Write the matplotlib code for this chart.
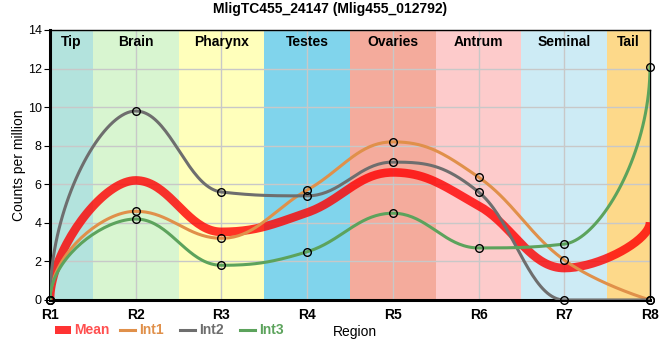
import numpy as np
import matplotlib
matplotlib.use("Agg")
import matplotlib.pyplot as plt

plt.rcParams["font.family"] = ["Liberation Sans", "DejaVu Sans"]

title = "MligTC455_24147 (Mlig455_012792)"
regions = ["R1", "R2", "R3", "R4", "R5", "R6", "R7", "R8"]
int1 = [0, 4.6, 3.2, 5.7, 8.2, 6.37, 2.07, 0]
int2 = [0, 9.8, 5.6, 5.4, 7.15, 5.6, 0, 0]
int3 = [0, 4.2, 1.8, 2.5, 4.5, 2.7, 2.9, 12.1]

band_names = ["Tip", "Brain", "Pharynx", "Testes", "Ovaries", "Antrum", "Seminal", "Tail"]
band_colors = ["#b3e3dd", "#d8f5d0", "#ffffbb", "#80d4ec",
               "#f4ab9c", "#fdcbcb", "#cdebf5", "#fdd98a"]


def end_ctrl(y_end, y_next, y_ctrl, ends):
    # steep end control, unless it would leave the range toward the neighbour control
    c = y_end + ends * (y_next - y_end)
    if min(y_end, y_ctrl) <= c <= max(y_end, y_ctrl):
        return c
    return y_end


def spline(xs, ys, n=40, smoothing=1.5, ends=0.5):
    # spline with control points clamped so there are no false extremes
    xs = np.asarray(xs, float)
    ys = np.asarray(ys, float)
    k = len(xs)
    left = [None] * k
    right = [None] * k
    d = smoothing + 1
    for i in range(1, k - 1):
        x, y = xs[i], ys[i]
        lx, ly = (smoothing * x + xs[i - 1]) / d, (smoothing * y + ys[i - 1]) / d
        rx, ry = (smoothing * x + xs[i + 1]) / d, (smoothing * y + ys[i + 1]) / d
        corr = (ry - ly) * (rx - x) / (rx - lx) + y - ry
        ly += corr
        ry += corr
        if ly > ys[i - 1] and ly > y:
            ly = max(ys[i - 1], y)
            ry = 2 * y - ly
        elif ly < ys[i - 1] and ly < y:
            ly = min(ys[i - 1], y)
            ry = 2 * y - ly
        if ry > ys[i + 1] and ry > y:
            ry = max(ys[i + 1], y)
            ly = 2 * y - ry
        elif ry < ys[i + 1] and ry < y:
            ry = min(ys[i + 1], y)
            ly = 2 * y - ry
        left[i] = (lx, ly)
        right[i] = (rx, ry)
    right[0] = (xs[0], end_ctrl(ys[0], ys[1], left[1][1], ends))
    left[-1] = (xs[-1], end_ctrl(ys[-1], ys[-2], right[-2][1], ends))
    u = np.linspace(0, 1, n)
    b = [(1 - u) ** 3, 3 * (1 - u) ** 2 * u, 3 * (1 - u) * u ** 2, u ** 3]
    px, py = [], []
    for i in range(k - 1):
        pts = [(xs[i], ys[i]), right[i], left[i + 1], (xs[i + 1], ys[i + 1])]
        px.append(sum(b[j] * pts[j][0] for j in range(4)))
        py.append(sum(b[j] * pts[j][1] for j in range(4)))
    return np.concatenate(px), np.concatenate(py)


x = np.arange(len(regions))
mean = (np.array(int1) + np.array(int2) + np.array(int3)) / 3

fig = plt.figure(figsize=(6.6, 3.6), dpi=100)
ax = fig.add_axes([50 / 660, 60 / 360, 600 / 660, 270 / 360])

for i, (name, col) in enumerate(zip(band_names, band_colors)):
    x0 = max(i - 0.5, 0)
    x1 = min(i + 0.5, len(regions) - 1)
    ax.axvspan(x0, x1, color=col, lw=0, zorder=0)
    ax.text((x0 + x1) / 2, 13.4, name, ha="center", va="center",
            fontsize=10, fontweight="bold", zorder=1)

ax.grid(True, color="#c8c8c8", lw=1, zorder=1)
ax.set_axisbelow(True)

series = [("Int1", int1, "#e0904a"), ("Int2", int2, "#6e6e6e"), ("Int3", int3, "#5ca35c")]
mx, my = spline(x, mean, ends=0.4)
ax.plot(mx, my, color="#ff0000", alpha=0.8, lw=6.2, solid_capstyle="butt", zorder=3)
for name, ys, col in series:
    cx, cy = spline(x, ys)
    ax.plot(cx, cy, color=col, lw=2.2, zorder=3)
    ax.plot(x, ys, "o", ms=5.5, mfc="none", mec="black", mew=1, zorder=4, clip_on=False)

ax.set_xlim(0, 7)
ax.set_ylim(0, 14)
ax.set_xticks(x)
ax.set_xticklabels(regions, fontsize=10, fontweight="bold")
ax.set_yticks(range(0, 15, 2))
ax.tick_params(axis="y", labelsize=9, length=4, pad=2)
ax.tick_params(axis="x", length=0, pad=6)
ax.set_ylabel("Counts per million", fontsize=10)
ax.yaxis.set_label_coords(-24 / 600, 0.5)
fig.text(0.5, 1 - 9 / 360, title, ha="center", va="center", fontsize=10, fontweight="bold")

for side in ["top", "right"]:
    ax.spines[side].set_linewidth(1)
for side in ["left", "bottom"]:
    ax.spines[side].set_linewidth(2.2)

# legend row under the axis
ly = 30 / 360
fig.patches.append(plt.Rectangle((55 / 660, ly - 4 / 360), 16 / 660, 8 / 360,
                                 transform=fig.transFigure, color="#ff3333", lw=0))
fig.text(74 / 660, ly, "Mean", color="#ff5050", fontsize=10, fontweight="bold", va="center")
for (name, ys, col), lx in zip(series, [120, 180, 240]):
    fig.add_artist(plt.Line2D([lx / 660, (lx + 15) / 660], [ly, ly], color=col, lw=2.2,
                              transform=fig.transFigure))
    fig.text((lx + 19) / 660, ly, name, color=col, fontsize=10, fontweight="bold", va="center")
fig.text(333 / 660, ly - 2 / 360, "Region", fontsize=10, va="center")

fig.savefig("out.png", dpi=100)
